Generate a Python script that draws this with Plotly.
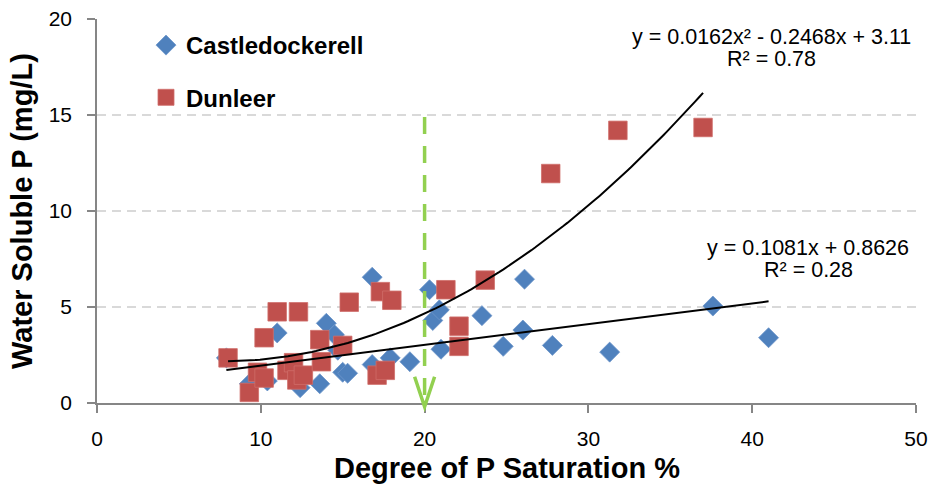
import numpy as np
import plotly.graph_objects as go

# ---- data ----
cd_x = [7.9, 9.3, 10.4, 11.0, 12.4, 13.6, 14.0, 14.5, 14.7, 15.0, 15.3, 16.8, 16.8,
        17.9, 19.1, 20.3, 20.5, 20.9, 21.0, 23.5, 24.8, 26.0, 26.1, 27.8, 31.3, 37.6, 41.0]
cd_y = [2.35, 1.0, 1.15, 3.65, 0.8, 1.0, 4.15, 3.55, 2.75, 1.6, 1.55, 6.55, 2.0,
        2.35, 2.15, 5.9, 4.3, 4.85, 2.8, 4.55, 2.95, 3.8, 6.45, 3.0, 2.65, 5.05, 3.4]

dl_x = [8.0, 9.3, 9.8, 10.2, 10.2, 11.0, 12.3, 11.6, 12.0, 12.2, 12.6, 13.6, 13.7,
        15.0, 15.4, 17.1, 17.6, 17.3, 18.0, 21.3, 23.7, 22.1, 22.1, 27.7, 31.8, 37.0]
dl_y = [2.35, 0.55, 1.6, 1.3, 3.4, 4.75, 4.75, 1.7, 2.1, 1.2, 1.45, 3.3, 2.15,
        3.0, 5.25, 1.45, 1.7, 5.8, 5.35, 5.9, 6.4, 4.0, 2.95, 11.95, 14.2, 14.35]

series_names = ["Castledockerell", "Dunleer"]

# trendline equations as printed on the chart
quad_coef = [0.0162, -0.2468, 3.11]
lin_coef = [0.1081, 0.8626]
quad_label = ["y = 0.0162x² - 0.2468x + 3.11", "R² = 0.78"]
lin_label = ["y = 0.1081x + 0.8626", "R² = 0.28"]

threshold_x = 20
threshold_top = 14.9

x_ticks = [0, 10, 20, 30, 40, 50]
y_ticks = [0, 5, 10, 15, 20]
x_title = "Degree of P Saturation %"
y_title = "Water Soluble P (mg/L)"

# ---- figure ----
BLUE = "#4F81BD"
RED = "#C0504D"
GREEN = "#92D050"
AXIS = "#868686"
FONT = "Liberation Sans, Arial, sans-serif"

fig = go.Figure()
fig.add_trace(go.Scatter(
    x=cd_x, y=cd_y, mode="markers", name=series_names[0], legendgroup="a",
    marker=dict(symbol="diamond", size=15.4, color=BLUE, line=dict(width=0.8, color="#6F97CA")),
))
fig.add_trace(go.Scatter(
    x=dl_x, y=dl_y, mode="markers", name=series_names[1], legendgroup="b",
    marker=dict(symbol="square", size=18.5, color=RED, line=dict(width=0.8, color="#CF6D6A")),
))

xq = np.linspace(min(dl_x), max(dl_x), 120)
fig.add_trace(go.Scatter(x=xq, y=np.polyval(quad_coef, xq), mode="lines",
                         line=dict(color="black", width=2), showlegend=False, hoverinfo="skip"))
xl = np.linspace(min(cd_x), max(cd_x), 2)
fig.add_trace(go.Scatter(x=xl, y=np.polyval(lin_coef, xl), mode="lines",
                         line=dict(color="black", width=2), showlegend=False, hoverinfo="skip"))

# threshold dashed line + open arrow head
fig.add_shape(type="line", xref="x", yref="y", x0=threshold_x, x1=threshold_x,
              y0=threshold_top, y1=0, layer="above",
              line=dict(color=GREEN, width=3.5, dash="17px,12px"))
hw = 0.61
fig.add_shape(type="path", xref="x", yref="paper", layer="above",
              path=f"M {threshold_x-hw},0.0685 L {threshold_x},-0.0096 L {threshold_x+hw},0.0685",
              line=dict(color=GREEN, width=3.5))

# helpers: pixel -> paper fraction (plot area 97..916 x 19..403)
def px_x(p):
    return (p - 97) / 819.0

def px_y(p):
    return (403 - p) / 384.0

eq_font = dict(family=FONT, size=21.5, color="black")
for txt, cx, cy in [(quad_label[0], 771, 37), (quad_label[1], 771, 59),
                    (lin_label[0], 808, 248), (lin_label[1], 808, 270)]:
    fig.add_annotation(text=txt, xref="paper", yref="paper", x=px_x(cx), y=px_y(cy),
                       xanchor="center", yanchor="middle", showarrow=False, font=eq_font)

# axis titles
fig.add_annotation(text=f"<b>{x_title}</b>", xref="paper", yref="paper", x=0.5, y=px_y(468),
                   xanchor="center", yanchor="middle", showarrow=False,
                   font=dict(family=FONT, size=29, color="black"))
fig.add_annotation(text=f"<b>{y_title}</b>", xref="paper", yref="paper", x=px_x(22), y=0.5,
                   xanchor="center", yanchor="middle", showarrow=False, textangle=-90,
                   font=dict(family=FONT, size=29, color="black"))

fig.update_layout(
    width=934, height=484,
    margin=dict(l=97, r=18, t=19, b=81),
    paper_bgcolor="white", plot_bgcolor="white",
    font=dict(family=FONT, color="black"),
    showlegend=True,
    legend=dict(x=px_x(146), y=px_y(23), xanchor="left", yanchor="top",
                bgcolor="rgba(0,0,0,0)", borderwidth=0,
                font=dict(family=FONT, size=24, color="black", weight="bold"),
                tracegroupgap=18, itemwidth=30),
    xaxis=dict(range=[0, 50], tickvals=x_ticks, showline=True, linecolor=AXIS, linewidth=1.5,
               ticks="outside", ticklen=8, tickcolor=AXIS, tickwidth=1.5, automargin=False,
               showgrid=False, zeroline=False, tickfont=dict(family=FONT, size=21, color="black"),
               ticklabelstandoff=8),
    yaxis=dict(range=[0, 20], tickvals=y_ticks, showline=True, linecolor=AXIS, linewidth=1.5,
               ticks="outside", ticklen=8, tickcolor=AXIS, tickwidth=1.5, automargin=False,
               showgrid=True, gridcolor="#D9D9D9", gridwidth=1.5, griddash="9px,6px",
               zeroline=False, tickfont=dict(family=FONT, size=21, color="black"),
               ticklabelstandoff=11),
)

fig.write_html("out.html",
               post_script="document.body.style.margin='0px';document.body.style.overflow='hidden';",
               config={"displayModeBar": False})
